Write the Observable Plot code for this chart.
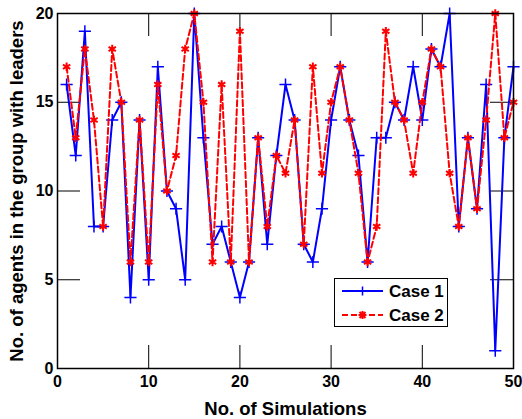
<!DOCTYPE html>
<html><head><meta charset="utf-8">
<script src="https://cdn.jsdelivr.net/npm/d3@7"></script>
<script src="https://cdn.jsdelivr.net/npm/@observablehq/plot@0.6"></script>
<style>
body{margin:0;background:#fff;}
#wrap{position:relative;width:522px;height:419px;font-family:"Liberation Sans",Arial,sans-serif;}
#legend{position:absolute;left:334px;top:278px;width:114px;height:49px;border:1.5px solid #000;background:#fff;box-sizing:border-box;}
#legend svg{display:block;}
</style></head><body><div id="wrap"></div>
<script>
const simulations = [1,2,3,4,5,6,7,8,9,10,11,12,13,14,15,16,17,18,19,20,21,22,23,24,25,26,27,28,29,30,31,32,33,34,35,36,37,38,39,40,41,42,43,44,45,46,47,48,49,50];
const case1 = [16,12,19,8,8,14,15,4,14,5,17,10,9,5,20,13,7,8,6,4,6,13,7,12,16,14,7,6,9,14,17,14,12,6,13,13,15,14,17,14,18,17,20,8,13,9,16,1,13,17];
const case2 = [17,13,18,14,8,18,15,6,14,6,16,10,12,18,20,15,6,16,6,19,6,13,8,12,11,14,7,17,11,15,17,14,11,6,8,19,15,14,11,15,18,17,11,8,13,9,14,20,13,15];
const seriesNames = ["Case 1", "Case 2"];
const xTicks = [0,10,20,30,40,50];
const yTicks = [0,5,10,15,20];
const xInnerTicks = [10,20,30,40];
const yInnerTicks = [5,10,15];
const xTitle = "No. of Simulations";
const yTitle = "No. of agents in the group with leaders";

const d1 = simulations.map((s,i)=>({sim:s, v:case1[i]}));
const d2 = simulations.map((s,i)=>({sim:s, v:case2[i]}));

const W = 522, H = 419, mL = 57, mR = 9, mT = 13, mB = 51;
const plotW = W - mL - mR, plotH = H - mT - mB, tickLen = 23;

const chart = Plot.plot({
  width: W, height: H,
  marginLeft: mL, marginRight: mR, marginTop: mT, marginBottom: mB,
  x: {domain: [0,50]},
  y: {domain: [0,20]},
  style: {fontFamily: "'Liberation Sans', Arial, sans-serif", fontWeight: "bold", fontSize: "16px", color: "#000", background: "#fff"},
  marks: [
    Plot.axisX(xTicks, {tickSize: 0, tickPadding: 7, fontSize: 16, fontWeight: "bold", label: xTitle, labelArrow: "none", labelAnchor: "center", labelOffset: 46}),
    Plot.axisY(yTicks, {tickSize: 0, tickPadding: 4, fontSize: 16, fontWeight: "bold", label: yTitle, labelArrow: "none", labelAnchor: "center", labelOffset: 48}),
    Plot.tickX(xInnerTicks, {x: d=>d, insetTop: plotH - tickLen, stroke: "#000"}),
    Plot.tickX(xInnerTicks, {x: d=>d, insetBottom: plotH - tickLen, stroke: "#000"}),
    Plot.tickY(yInnerTicks, {y: d=>d, insetRight: plotW - tickLen, stroke: "#000"}),
    Plot.tickY(yInnerTicks, {y: d=>d, insetLeft: plotW - tickLen, stroke: "#000"}),
    Plot.line(d1, {x: "sim", y: "v", stroke: "#0000ff", strokeWidth: 2}),
    Plot.dot(d1, {x: "sim", y: "v", symbol: "plus", stroke: "#0000ff", r: 4, strokeWidth: 1.5}),
    Plot.line(d2, {x: "sim", y: "v", stroke: "#ff0000", strokeWidth: 2, strokeDasharray: "6,3"}),
    Plot.dot(d2, {x: "sim", y: "v", symbol: "asterisk", stroke: "#ff0000", r: 4, strokeWidth: 2}),
    Plot.frame({stroke: "#000", strokeWidth: 1.5})
  ]
});
const wrap = document.getElementById("wrap");
wrap.appendChild(chart);
d3.select(chart).selectAll('g[aria-label="x-axis label"] text').style("font-size", "18.5px").text(xTitle);
d3.select(chart).selectAll('g[aria-label="y-axis label"] text').style("font-size", "18.5px").text(yTitle);

// legend
const lg = document.createElement("div");
lg.id = "legend";
wrap.appendChild(lg);
const svg = d3.select(lg).append("svg").attr("width", 111).attr("height", 46);
const rows = [
  {name: seriesNames[0], color: "#0000ff", dash: null, y: 12},
  {name: seriesNames[1], color: "#ff0000", dash: "6,3", y: 36}
];
rows.forEach((r, i) => {
  svg.append("line").attr("x1", 7).attr("x2", 48).attr("y1", r.y).attr("y2", r.y)
    .attr("stroke", r.color).attr("stroke-width", 2).attr("stroke-dasharray", r.dash);
  const cx = 27.5;
  if (i === 0) {
    svg.append("path").attr("d", `M${cx-4.5},${r.y}H${cx+4.5}M${cx},${r.y-4.5}V${r.y+4.5}`).attr("stroke", r.color).attr("stroke-width", 1.5);
  } else {
    svg.append("path").attr("d", `M${cx-4},${r.y}H${cx+4}M${cx},${r.y-4}V${r.y+4}M${cx-3},${r.y-3}L${cx+3},${r.y+3}M${cx-3},${r.y+3}L${cx+3},${r.y-3}`).attr("stroke", r.color).attr("stroke-width", 2);
  }
  svg.append("text").attr("x", 54).attr("y", r.y).attr("dy", "0.35em")
    .attr("font-family", "'Liberation Sans', Arial, sans-serif").attr("font-weight", "bold").attr("font-size", 17)
    .text(r.name);
});
</script></body></html>
